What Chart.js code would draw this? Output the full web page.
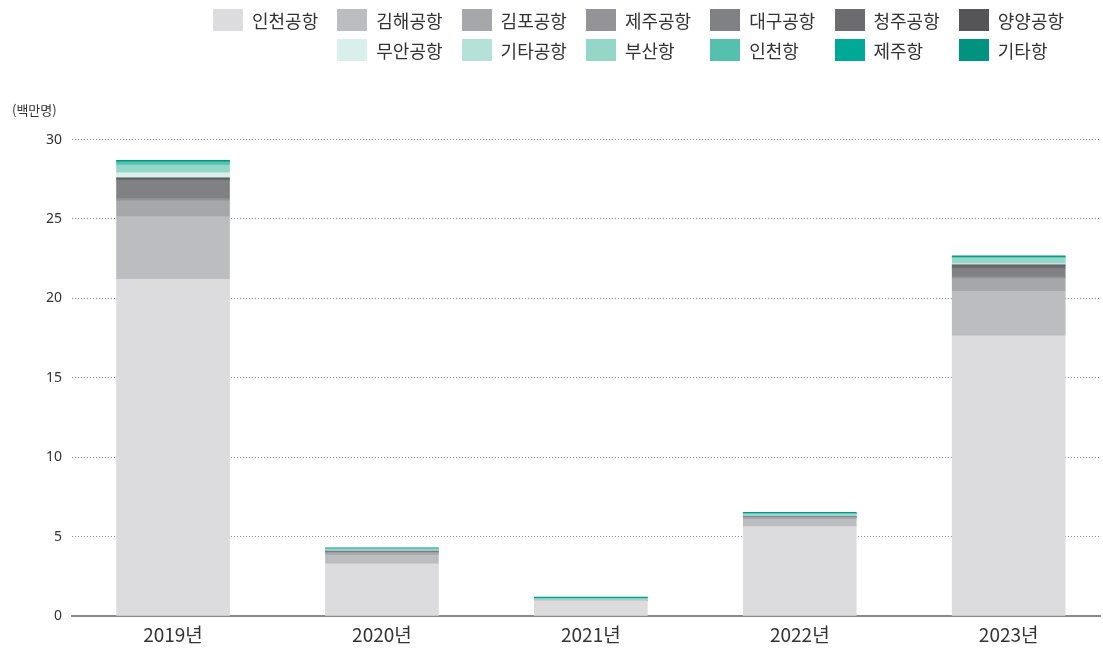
<!DOCTYPE html>
<html lang="ko">
<head>
<meta charset="utf-8">
<script src="https://cdn.jsdelivr.net/npm/chart.js@4"></script>
<style>
  html, body { margin: 0; padding: 0; background: #fff; }
  #wrap { position: relative; width: 1103px; height: 651px; font-family: "Noto Sans CJK KR", "Noto Sans", sans-serif; }
  #chart { position: absolute; left: 0; top: 0; }
  .lg { position: absolute; height: 22px; display: flex; align-items: center; white-space: nowrap; }
  .lg .bx { width: 30px; height: 22px; margin-right: 9px; flex: none; }
  .lg .tx { font-size: 18px; color: #333; line-height: 22px; }
</style>
</head>
<body>
<div id="wrap">
  <canvas id="chart" width="1103" height="651"></canvas>
  <div id="legend"></div>
</div>
<script>
// ---- data (백만명) ----
const years = ['2019년', '2020년', '2021년', '2022년', '2023년'];
const seriesNames = ['인천공항', '김해공항', '김포공항', '제주공항', '대구공항', '청주공항', '양양공항',
                     '무안공항', '기타공항', '부산항', '인천항', '제주항', '기타항'];
const incheonAirport = [21.2, 3.28, 0.96, 5.63, 17.65];
const gimhaeAirport  = [3.95, 0.55, 0.02, 0.45, 2.8];
const gimpoAirport   = [1.0, 0.15, 0.01, 0.13, 0.8];
const jejuAirport    = [0.13, 0.03, 0, 0.03, 0.11];
const daeguAirport   = [1.15, 0.05, 0, 0.02, 0.52];
const cheongjuAirport= [0.1, 0.02, 0, 0.01, 0.17];
const yangyangAirport= [0.06, 0.01, 0, 0, 0.06];
const muanAirport    = [0.3, 0.01, 0, 0, 0.05];
const otherAirport   = [0.05, 0.02, 0, 0.03, 0.05];
const busanPort      = [0.46, 0.09, 0.1, 0.12, 0.33];
const incheonPort    = [0.19, 0.04, 0.03, 0.04, 0.05];
const jejuPort       = [0.03, 0.01, 0.02, 0.02, 0.03];
const otherPort      = [0.07, 0.04, 0.05, 0.05, 0.06];
const yTicks = [0, 5, 10, 15, 20, 25, 30];
const unitLabel = '(백만명)';

const seriesValues = [incheonAirport, gimhaeAirport, gimpoAirport, jejuAirport, daeguAirport,
  cheongjuAirport, yangyangAirport, muanAirport, otherAirport, busanPort, incheonPort, jejuPort, otherPort];
const colors = ['#dcdcde', '#bcbdc1', '#a6a7ab', '#949498', '#808185', '#6b6b70', '#555558',
                '#d9efeb', '#b4e2d9', '#94d6c8', '#56c0af', '#00a997', '#009480'];

const datasets = seriesNames.map((name, k) => ({
  label: name,
  data: seriesValues[k].map((v, i) => ({ x: i, y: v })),
  backgroundColor: colors[k],
  borderWidth: 0,
  barThickness: 113,
}));

// ---- HTML legend (grid aligned, built from the series) ----
const lg = document.getElementById('legend');
seriesNames.forEach((name, k) => {
  const row = k < 7 ? 0 : 1;
  const col = k < 7 ? k : k - 6;
  const d = document.createElement('div');
  d.className = 'lg';
  d.style.left = (213 + col * 124.3) + 'px';
  d.style.top = (9 + row * 30) + 'px';
  d.innerHTML = '<span class="bx" style="background:' + colors[k] + '"></span><span class="tx">' + name + '</span>';
  lg.appendChild(d);
});

new Chart(document.getElementById('chart'), {
  type: 'bar',
  data: { datasets },
  options: {
    responsive: false,
    animation: false,
    layout: { padding: { left: 12, right: 3, top: 102, bottom: 7 } },
    plugins: {
      legend: { display: false },
      tooltip: { enabled: false },
      title: {
        display: true, text: unitLabel, align: 'start', color: '#333',
        font: { family: '"Noto Sans CJK KR", sans-serif', size: 13, weight: 'normal' },
        padding: { top: 0, bottom: 22 }
      }
    },
    scales: {
      x: {
        type: 'linear', stacked: true, offset: false,
        min: -0.4835, max: 4.437,
        afterBuildTicks: (s) => { s.ticks = years.map((_, i) => ({ value: i })); },
        afterFit: (s) => { s.height = 28; },
        grid: { display: false, drawTicks: false },
        border: { display: true, color: '#8a8a8a', width: 2 },
        ticks: {
          autoSkip: false, maxRotation: 0, padding: 7, color: '#333',
          font: { family: '"Noto Sans CJK KR", sans-serif', size: 19 },
          callback: (v) => years[v]
        }
      },
      y: {
        stacked: true, min: 0, max: 30,
        afterBuildTicks: (s) => { s.ticks = yTicks.map(v => ({ value: v })); },
        afterFit: (s) => { s.width = 60; },
        grid: { color: '#8f8f8f', lineWidth: 1, drawTicks: false, borderDash: [1, 2] },
        border: { display: false, dash: [1, 2] },
        ticks: {
          padding: 10, color: '#333',
          font: { family: '"Noto Sans", sans-serif', size: 14 }
        }
      }
    }
  }
});
</script>
</body>
</html>
